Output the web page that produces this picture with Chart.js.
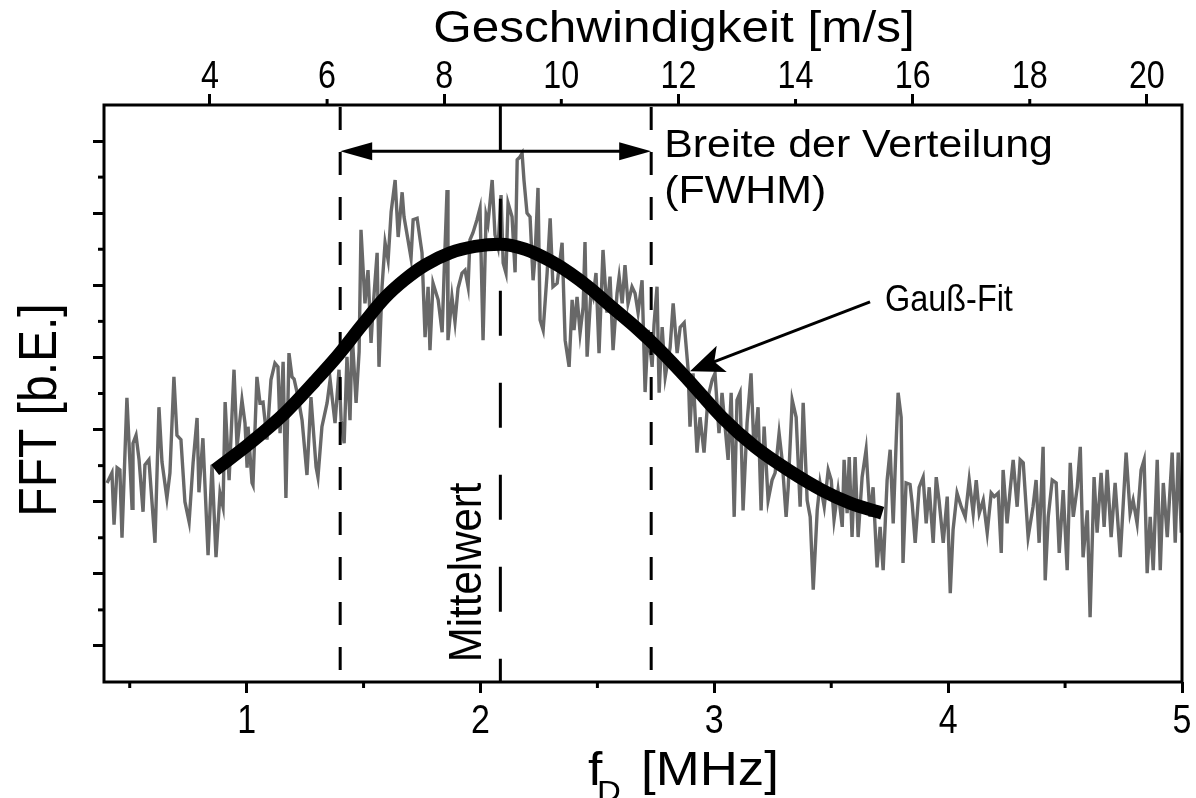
<!DOCTYPE html>
<html>
<head>
<meta charset="utf-8">
<script src="https://cdn.jsdelivr.net/npm/chart.js@4.4.1/dist/chart.umd.min.js"></script>
<style>
  html, body { margin: 0; padding: 0; background: #fff; }
  #wrap { width: 1196px; height: 798px; }
</style>
</head>
<body>
<div id="wrap"><canvas id="fftChart" width="1196" height="798"></canvas></div>
<script>
const freqMHz = [
  0.403, 0.424, 0.433, 0.446, 0.458, 0.467, 0.488, 0.510, 0.514, 0.527,
  0.540, 0.557, 0.565, 0.582, 0.608, 0.625, 0.638, 0.659, 0.672, 0.689,
  0.702, 0.719, 0.736, 0.754, 0.771, 0.788, 0.796, 0.813, 0.835, 0.852,
  0.869, 0.886, 0.899, 0.908, 0.925, 0.946, 0.959, 0.980, 0.993, 1.002,
  1.006, 1.023, 1.027, 1.044, 1.057, 1.070, 1.087, 1.104, 1.121, 1.134,
  1.143, 1.156, 1.168, 1.181, 1.194, 1.203, 1.220, 1.237, 1.258, 1.275,
  1.297, 1.305, 1.322, 1.344, 1.357, 1.378, 1.395, 1.404, 1.417, 1.429,
  1.442, 1.451, 1.468, 1.481, 1.489, 1.506, 1.519, 1.532, 1.541, 1.558,
  1.566, 1.579, 1.592, 1.605, 1.618, 1.635, 1.648, 1.665, 1.673, 1.690,
  1.703, 1.712, 1.729, 1.742, 1.750, 1.763, 1.776, 1.784, 1.797, 1.819,
  1.836, 1.844, 1.857, 1.861, 1.878, 1.891, 1.904, 1.921, 1.934, 1.947,
  1.955, 1.968, 1.985, 1.998, 2.011, 2.024, 2.032, 2.050, 2.062, 2.075,
  2.088, 2.097, 2.109, 2.118, 2.135, 2.148, 2.157, 2.169, 2.178, 2.186,
  2.199, 2.212, 2.225, 2.233, 2.246, 2.255, 2.268, 2.285, 2.298, 2.310,
  2.328, 2.349, 2.362, 2.379, 2.392, 2.400, 2.413, 2.426, 2.439, 2.447,
  2.456, 2.473, 2.482, 2.494, 2.507, 2.524, 2.541, 2.554, 2.567, 2.584,
  2.593, 2.606, 2.618, 2.631, 2.648, 2.661, 2.674, 2.691, 2.704, 2.717,
  2.734, 2.742, 2.755, 2.764, 2.777, 2.790, 2.811, 2.824, 2.841, 2.854,
  2.871, 2.888, 2.896, 2.909, 2.926, 2.939, 2.956, 2.973, 2.991, 3.003,
  3.020, 3.033, 3.046, 3.059, 3.072, 3.085, 3.097, 3.110, 3.123, 3.140,
  3.157, 3.170, 3.187, 3.200, 3.213, 3.230, 3.247, 3.260, 3.277, 3.290,
  3.307, 3.316, 3.333, 3.350, 3.367, 3.380, 3.397, 3.410, 3.423, 3.440,
  3.452, 3.470, 3.487, 3.500, 3.512, 3.529, 3.547, 3.555, 3.568, 3.577,
  3.589, 3.602, 3.615, 3.632, 3.649, 3.666, 3.679, 3.696, 3.709, 3.722,
  3.739, 3.752, 3.765, 3.778, 3.786, 3.799, 3.807, 3.820, 3.837, 3.846,
  3.859, 3.876, 3.893, 3.906, 3.919, 3.936, 3.949, 3.961, 3.979, 3.996,
  4.009, 4.021, 4.038, 4.056, 4.073, 4.090, 4.107, 4.120, 4.133, 4.150,
  4.167, 4.184, 4.197, 4.214, 4.227, 4.235, 4.252, 4.265, 4.278, 4.295,
  4.308, 4.321, 4.342, 4.363, 4.376, 4.389, 4.406, 4.415, 4.428, 4.445,
  4.462, 4.475, 4.492, 4.509, 4.522, 4.535, 4.552, 4.565, 4.577, 4.595,
  4.607, 4.624, 4.637, 4.654, 4.667, 4.680, 4.697, 4.714, 4.736, 4.761,
  4.778, 4.791, 4.808, 4.825, 4.838, 4.851, 4.864, 4.877, 4.894, 4.907,
  4.920, 4.937, 4.958, 4.971, 4.984, 4.997
];
const fftValue = [
  2.76, 2.90, 2.18, 2.97, 2.94, 2.00, 3.94, 2.41, 3.31, 3.42,
  3.08, 2.36, 3.01, 3.08, 1.93, 3.81, 3.05, 2.55, 2.90, 4.23,
  3.42, 3.36, 2.50, 2.22, 3.04, 3.66, 2.63, 3.38, 1.76, 3.01,
  1.73, 2.62, 2.43, 3.88, 2.80, 4.33, 3.26, 3.91, 3.59, 2.97,
  3.54, 2.76, 2.73, 4.23, 3.87, 3.88, 3.36, 4.19, 4.42, 4.37,
  3.45, 4.44, 2.55, 4.56, 4.23, 4.20, 3.95, 3.63, 2.87, 3.95,
  2.98, 2.84, 3.54, 3.87, 4.19, 3.59, 4.33, 3.63, 3.31, 4.51,
  3.63, 4.84, 3.87, 4.58, 6.27, 5.25, 5.71, 4.70, 5.20, 5.95,
  4.37, 5.48, 6.09, 5.85, 6.52, 6.96, 6.17, 6.79, 6.45, 6.13,
  5.88, 6.41, 6.43, 6.13, 5.95, 4.78, 5.48, 4.60, 5.53, 5.30,
  4.85, 5.62, 6.82, 4.74, 5.34, 4.99, 5.46, 5.67, 5.71, 5.48,
  6.13, 6.23, 6.41, 6.57, 4.74, 6.47, 6.36, 6.96, 6.20, 6.03,
  6.75, 5.81, 5.67, 6.64, 6.45, 5.68, 7.24, 7.28, 7.33, 6.96,
  6.50, 6.45, 5.57, 5.88, 6.85, 5.02, 4.88, 5.67, 6.43, 5.48,
  5.53, 6.09, 4.74, 4.37, 5.30, 4.88, 5.34, 4.84, 5.20, 6.10,
  4.51, 5.44, 5.34, 5.67, 4.56, 5.99, 5.12, 5.62, 4.60, 5.39,
  5.62, 5.25, 5.78, 5.25, 5.48, 5.39, 5.12, 5.57, 4.02, 4.88,
  4.37, 4.95, 5.48, 4.01, 4.92, 4.23, 4.64, 5.25, 4.56, 4.92,
  4.98, 4.33, 3.54, 4.28, 3.18, 3.67, 3.18, 3.95, 4.19, 4.28,
  3.45, 4.01, 3.54, 3.08, 4.01, 2.29, 3.91, 4.01, 2.38, 3.59,
  4.28, 3.18, 3.81, 2.38, 3.54, 2.52, 2.80, 2.90, 3.45, 3.08,
  2.29, 2.70, 3.91, 3.67, 2.43, 3.87, 2.52, 2.29, 1.28, 2.38,
  2.76, 2.43, 2.94, 2.80, 2.25, 2.66, 2.15, 3.08, 2.34, 3.12,
  2.01, 3.12, 2.01, 2.84, 3.22, 2.29, 2.70, 1.59, 2.15, 1.55,
  2.80, 3.22, 2.20, 3.36, 4.01, 3.67, 1.65, 2.76, 2.74, 2.48,
  1.93, 2.70, 2.84, 2.20, 2.70, 1.93, 2.84, 2.52, 1.93, 2.57,
  1.23, 2.11, 2.62, 2.43, 2.29, 2.80, 2.34, 2.80, 2.34, 2.52,
  2.07, 2.62, 2.57, 2.62, 1.79, 2.94, 2.20, 2.66, 3.08, 2.43,
  3.08, 3.04, 2.01, 2.43, 2.80, 1.93, 3.26, 1.41, 2.29, 2.80,
  2.76, 1.79, 2.66, 1.55, 3.04, 2.29, 2.70, 3.26, 1.73, 2.38,
  0.90, 2.84, 2.07, 2.90, 2.15, 2.94, 2.01, 2.76, 1.73, 3.18,
  2.34, 2.52, 2.20, 2.94, 3.08, 1.51, 2.29, 1.55, 3.08, 1.55,
  2.76, 2.01, 3.18, 1.93, 3.18, 2.07
];

// Gauss fit curve
const fitFreq  = [0.865, 1.014, 1.164, 1.292, 1.391, 1.494, 1.592, 1.677, 1.763, 1.870, 1.977, 2.084, 2.191,
                  2.298, 2.383, 2.469, 2.554, 2.670, 2.768, 2.888, 3.033, 3.174, 3.316, 3.461, 3.581, 3.718];
const fitValue = [2.94, 3.31, 3.73, 4.17, 4.53, 4.95, 5.33, 5.58, 5.78, 5.95, 6.04, 6.07, 6.00,
                  5.84, 5.67, 5.46, 5.22, 4.90, 4.60, 4.19, 3.67, 3.26, 2.94, 2.66, 2.48, 2.34];

// axes
const fdTicks = [1, 2, 3, 4, 5];
const fdMinor = [0.5, 1.5, 2.5, 3.5, 4.5];
const speedTicks = [4, 6, 8, 10, 12, 14, 16, 18, 20];
const fftTicks = [0.5, 1.5, 2.5, 3.5, 4.5, 5.5, 6.5, 7.5];
const fftMinor = [1, 2, 3, 4, 5, 6, 7];

// annotation anchors (data units)
const meanFreq = 2.085;
const fwhmLow = 1.40;
const fwhmHigh = 2.73;
const fwhmLevel = 7.36;
const meanDashFrom = 6.70;
const gaussLabel = { x: 3.666, y: 5.27 };
const gaussTip = { x: 2.896, y: 4.31 };

const TEXT_FONT = '"Liberation Sans", Arial, Helvetica, sans-serif';

// text helper, sx stretches the glyphs horizontally like in the original figure
function putText(ctx, str, x, y, size, opts) {
  const o = opts || {};
  ctx.save();
  ctx.translate(x, y);
  ctx.scale(o.sx || 1.1, 1);
  if (o.rotate) ctx.rotate(o.rotate);
  ctx.font = size + 'px ' + TEXT_FONT;
  ctx.textAlign = o.align || 'left';
  ctx.textBaseline = 'alphabetic';
  ctx.fillStyle = '#000';
  ctx.fillText(str, 0, 0);
  ctx.restore();
}

function seg(ctx, x1, y1, x2, y2) {
  ctx.beginPath();
  ctx.moveTo(x1, y1);
  ctx.lineTo(x2, y2);
  ctx.stroke();
}

function arrowHead(ctx, tipX, tipY, fromX, fromY, len, half, notch) {
  const ang = Math.atan2(tipY - fromY, tipX - fromX);
  ctx.save();
  ctx.translate(tipX, tipY);
  ctx.rotate(ang);
  ctx.beginPath();
  ctx.moveTo(0, 0);
  ctx.lineTo(-len, -half);
  ctx.lineTo(-len + notch, 0);
  ctx.lineTo(-len, half);
  ctx.closePath();
  ctx.fill();
  ctx.restore();
}

const annotate = {
  id: 'annotate',
  afterDatasetsDraw(chart) {
    const { ctx, chartArea: a, scales: { x, y } } = chart;
    ctx.save();
    ctx.strokeStyle = '#000';
    ctx.fillStyle = '#000';
    ctx.lineWidth = 3;

    // FWHM borders
    ctx.setLineDash([23, 22]);
    [fwhmLow, fwhmHigh].forEach(f => {
      const px = x.getPixelForValue(f);
      seg(ctx, px, a.top + 2, px, a.bottom);
    });

    // mean value line
    const mx = x.getPixelForValue(meanFreq);
    const ay = y.getPixelForValue(fwhmLevel);
    ctx.setLineDash([]);
    seg(ctx, mx, a.top, mx, ay);
    ctx.setLineDash([45, 47]);
    seg(ctx, mx, y.getPixelForValue(meanDashFrom), mx, a.bottom);
    ctx.setLineDash([]);

    // double arrow for the width
    const lx = x.getPixelForValue(fwhmLow), rx = x.getPixelForValue(fwhmHigh);
    seg(ctx, lx + 15, ay, rx - 15, ay);
    arrowHead(ctx, lx, ay, rx, ay, 32, 9, 0);
    arrowHead(ctx, rx, ay, lx, ay, 32, 9, 0);

    // pointer to the fit
    const sx = x.getPixelForValue(gaussLabel.x), sy = y.getPixelForValue(gaussLabel.y);
    const tx = x.getPixelForValue(gaussTip.x), ty = y.getPixelForValue(gaussTip.y);
    const d = Math.hypot(tx - sx, ty - sy);
    seg(ctx, sx, sy, tx - (tx - sx) / d * 20, ty - (ty - sy) / d * 20);
    arrowHead(ctx, tx, ty, sx, sy, 34, 14, 8);

    // texts
    putText(ctx, 'Breite der Verteilung', rx + 13, ay + 6, 39);
    putText(ctx, '(FWHM)', rx + 13, ay + 52, 39);
    putText(ctx, 'Gauß-Fit', sx + 15, sy + 9, 36, { sx: 0.9 });
    putText(ctx, 'Mittelwert', mx - 19, y.getPixelForValue(1.52), 42, { align: 'center', rotate: -Math.PI / 2 });
    ctx.restore();
  },
  afterDraw(chart) {
    const { ctx, chartArea: a, scales: { x, y, x2 } } = chart;
    ctx.save();
    ctx.strokeStyle = '#000';
    ctx.lineWidth = 3;
    ctx.strokeRect(a.left, a.top, a.right - a.left, a.bottom - a.top);

    // minor ticks
    fdMinor.forEach(v => { const p = x.getPixelForValue(v); seg(ctx, p, a.bottom, p, a.bottom + 6); });
    speedTicks.filter(v => v % 4 !== 0).forEach(v => { const p = x2.getPixelForValue(v); seg(ctx, p, a.top, p, a.top - 6); });
    fftMinor.forEach(v => { const p = y.getPixelForValue(v); seg(ctx, a.left, p, a.left - 6, p); });

    // tick labels in a narrow cut
    fdTicks.forEach(v => putText(ctx, String(v), x.getPixelForValue(v), a.bottom + 51, 40, { align: 'center', sx: 0.85 }));
    speedTicks.forEach(v => putText(ctx, String(v), x2.getPixelForValue(v), a.top - 17, 38, { align: 'center', sx: 0.85 }));

    // axis titles
    putText(ctx, 'Geschwindigkeit [m/s]', 674, 42, 45, { align: 'center' });
    putText(ctx, 'f', 588, 785, 47);
    putText(ctx, 'D', 597, 801, 30);
    putText(ctx, '[MHz]', 641, 785, 48);
    putText(ctx, 'FFT [b.E.]', 56, 410, 48, { align: 'center', rotate: -Math.PI / 2 });
    ctx.restore();
  }
};

const tickGrid = { drawOnChartArea: false, drawTicks: true, tickLength: 11, tickWidth: 3, tickColor: '#000' };

const chart = new Chart(document.getElementById('fftChart').getContext('2d'), {
  type: 'line',
  data: {
    datasets: [
      {
        label: 'Gauß-Fit',
        data: fitFreq.map((f, i) => ({ x: f, y: fitValue[i] })),
        borderColor: '#000',
        borderWidth: 13,
        borderCapStyle: 'butt',
        pointRadius: 0,
        cubicInterpolationMode: 'monotone',
        order: 0
      },
      {
        label: 'FFT',
        data: freqMHz.map((f, i) => ({ x: f, y: fftValue[i] })),
        borderColor: '#686868',
        borderWidth: 3.4,
        pointRadius: 0,
        tension: 0,
        order: 1
      }
    ]
  },
  options: {
    responsive: false,
    animation: false,
    devicePixelRatio: 1,
    layout: { padding: { left: 0, right: 14, top: 0, bottom: 0 } },
    plugins: { legend: { display: false }, tooltip: { enabled: false } },
    scales: {
      x: {
        type: 'linear',
        position: 'bottom',
        min: 0.39,
        max: 5.0,
        afterBuildTicks: s => { s.ticks = fdTicks.map(v => ({ value: v })); },
        afterFit: s => { s.height = 116; },
        grid: tickGrid,
        border: { display: false },
        ticks: { callback: () => '' }
      },
      x2: {
        type: 'linear',
        position: 'top',
        min: 2.19,
        max: 20.6,
        afterBuildTicks: s => { s.ticks = speedTicks.map(v => ({ value: v })); },
        afterFit: s => { s.height = 105; },
        grid: Object.assign({}, tickGrid, {
          tickColor: c => (c.tick && c.tick.value % 4 === 0) ? '#000' : 'rgba(0,0,0,0)'
        }),
        border: { display: false },
        ticks: { callback: () => '' }
      },
      y: {
        type: 'linear',
        min: 0,
        max: 8,
        afterBuildTicks: s => { s.ticks = fftTicks.map(v => ({ value: v })); },
        afterFit: s => { s.width = 104; },
        grid: tickGrid,
        border: { display: false },
        ticks: { callback: () => '' }
      }
    }
  },
  plugins: [annotate]
});
</script>
</body>
</html>
